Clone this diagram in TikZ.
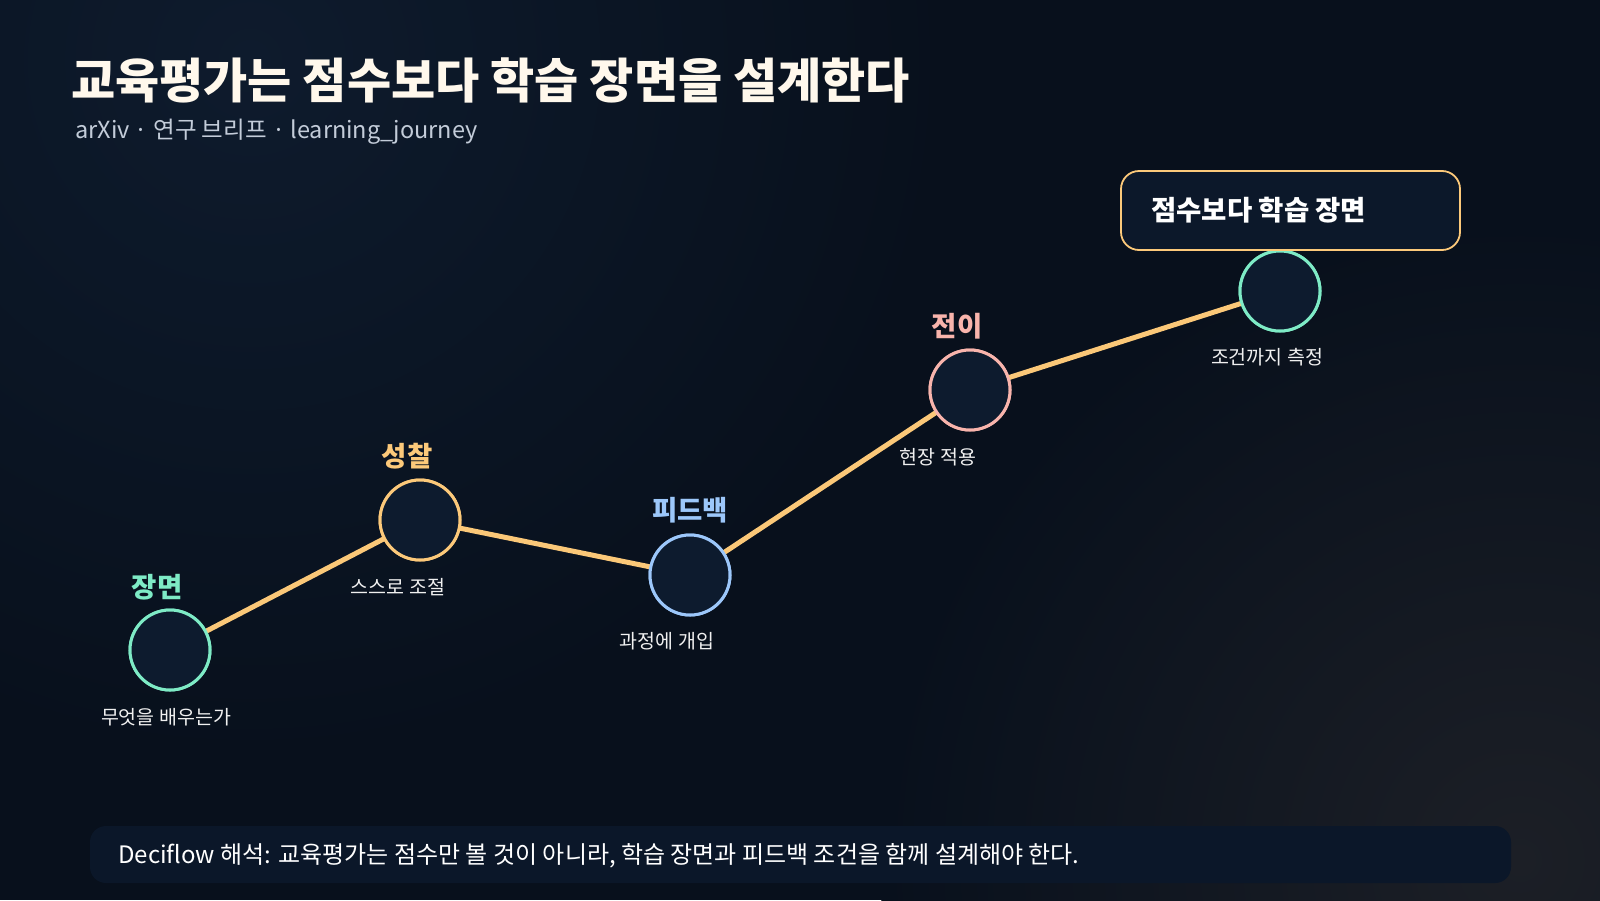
\documentclass[tikz,border=0pt]{standalone}
\usepackage{fontspec}
\setmainfont{Noto Sans CJK KR}
\usetikzlibrary{positioning}
\definecolor{bgbase}{HTML}{08101C}
\definecolor{bgtl}{HTML}{0E1B2D}
\definecolor{bgbr}{HTML}{1C1F26}
\definecolor{cfill}{HTML}{0D1B2E}
\definecolor{teal}{HTML}{7EEBC6}
\definecolor{amber}{HTML}{FCC97A}
\definecolor{sky}{HTML}{9CC7FA}
\definecolor{rose}{HTML}{F8B4AC}
\definecolor{linec}{HTML}{FBC878}
\definecolor{titlec}{HTML}{FFF8EC}
\definecolor{subc}{HTML}{C3CCD9}
\definecolor{barfill}{HTML}{0B1729}
\definecolor{boxfill}{HTML}{0C182A}
\tikzset{
  stage/.style={circle, draw=#1, line width=3pt, fill=cfill, minimum size=80pt, inner sep=0pt},
  stagelabel/.style={text=#1, font=\fontsize{27.5}{32}\selectfont\bfseries, inner sep=0pt},
  sublabel/.style={text=white!94!black, font=\fontsize{19.5}{23}\selectfont, inner sep=0pt},
  link/.style={draw=linec, line width=5pt, line cap=round},
}
\begin{document}
\begin{tikzpicture}[x=1pt,y=-1pt]
% background
\path[use as bounding box] (0,0) rectangle (1600,900);
\fill[bgbase] (0,0) rectangle (1600,900);
\begin{scope}
\clip (0,0) rectangle (1600,900);
\shade[inner color=bgtl, outer color=bgbase] (250,60) circle (700);
\shade[inner color=bgbr, outer color=bgbase] (1520,860) circle (640);
\end{scope}
% title
\node[anchor=base west, inner sep=0pt, text=titlec, font=\fontsize{48}{54}\selectfont\bfseries] (title) at (71,98) {교육평가는 점수보다 학습 장면을 설계한다};
\node[anchor=base west, inner sep=0pt, text=subc, font=\fontsize{23.5}{28}\selectfont] (subtitle) at (75,138) {arXiv · 연구 브리프 · learning\_journey};
% stages
\node[stage=teal] (s1) at (170,650) {};
\node[stage=amber] (s2) at (420,520) {};
\node[stage=sky] (s3) at (690,575) {};
\node[stage=rose] (s4) at (970,390) {};
\node[stage=teal] (s5) at (1280,291) {};
% links
\draw[link] (s1) -- (s2);
\draw[link] (s2) -- (s3);
\draw[link] (s3) -- (s4);
\draw[link] (s4) -- (s5);
% redraw circles above links
\node[stage=teal] at (170,650) {};
\node[stage=amber] at (420,520) {};
\node[stage=sky] at (690,575) {};
\node[stage=rose] at (970,390) {};
\node[stage=teal] at (1280,291) {};
% labels
\node[stagelabel=teal] (l1) at (157,587) {장면};
\node[stagelabel=amber] (l2) at (407,456) {성찰};
\node[stagelabel=sky] (l3) at (690,510) {피드백};
\node[stagelabel=rose] (l4) at (957,326) {전이};
\node[sublabel] (d1) at (166,717) {무엇을 배우는가};
\node[sublabel] (d2) at (398,587) {스스로 조절};
\node[sublabel] (d3) at (667,641) {과정에 개입};
\node[sublabel] (d4) at (938,457) {현장 적용};
\node[sublabel] (d5) at (1267,357) {조건까지 측정};
% callout box
\draw[draw=amber, line width=1.8pt, fill=boxfill, rounded corners=18pt] (1121,171) rectangle (1460,250);
\node[anchor=west, inner sep=0pt, text=white, font=\fontsize{27.5}{32}\selectfont\bfseries] (callout) at (1151,210) {점수보다 학습 장면};
% bottom bar
\fill[barfill, rounded corners=16pt] (90,826) rectangle (1511,883);
\node[anchor=west, inner sep=0pt, text=white, font=\fontsize{24}{28}\selectfont] (note) at (118,856) {Deciflow 해석: 교육평가는 점수만 볼 것이 아니라, 학습 장면과 피드백 조건을 함께 설계해야 한다.};
\end{tikzpicture}
\end{document}
